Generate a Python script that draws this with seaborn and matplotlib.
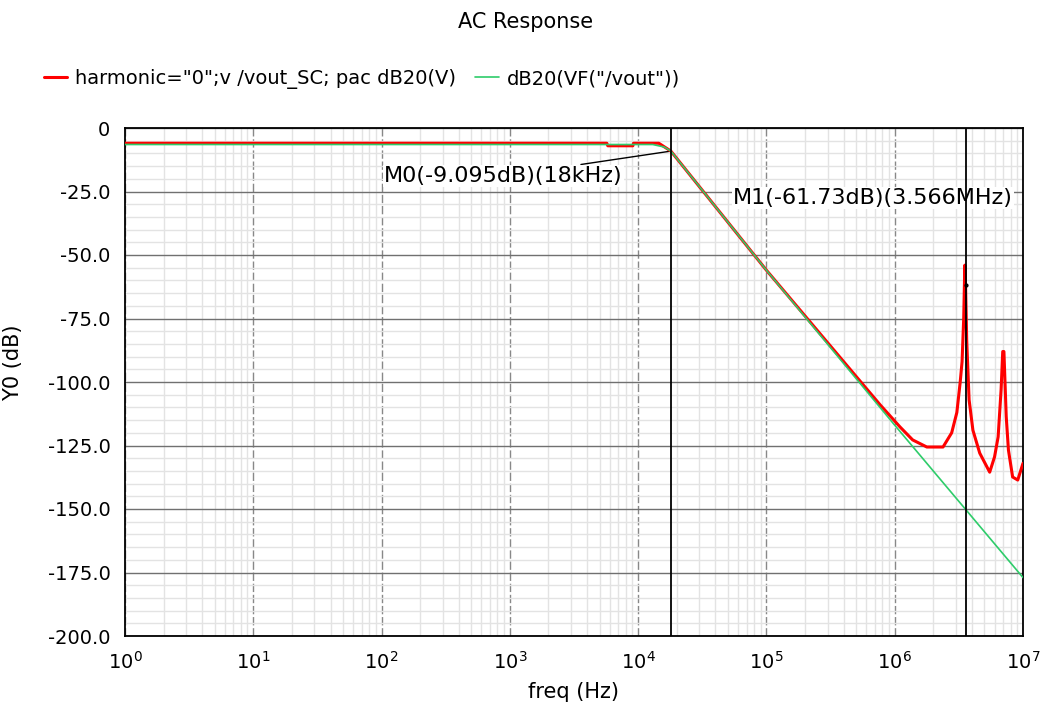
import numpy as np
import pandas as pd
import matplotlib
matplotlib.use("Agg")
import matplotlib.pyplot as plt
import matplotlib.ticker as mticker
import seaborn as sns

## Data
# red trace: harmonic="0" pac response (Hz, dB)
red_freq = [1, 5.7e3, 5.8e3, 9.1e3, 9.2e3, 1.45e4, 1.8e4, 1e5, 7.7e5,
            1.1e6, 1.38e6, 1.78e6, 2.38e6, 2.78e6, 3.05e6, 3.24e6, 3.35e6,
            3.45e6, 3.52e6, 3.566e6, 3.64e6, 3.8e6, 4.07e6, 4.6e6, 5.5e6,
            6.0e6, 6.4e6, 6.75e6, 6.95e6, 7.1e6, 7.4e6, 7.7e6, 8.3e6,
            9.1e6, 1e7]
red_db = [-6.0, -6.0, -7.0, -7.0, -6.0, -6.0, -9.1, -56.0, -109.0,
          -117.7, -122.8, -125.6, -125.6, -120.0, -112.0, -100.0, -92.0,
          -75.0, -54.0, -61.73, -83.5, -107.0, -119.0, -128.0, -135.5,
          -129.5, -121.6, -103.0, -88.0, -88.0, -113.6, -126.8, -137.4,
          -138.6, -132.0]

# green trace: dB20(VF("/vout"))
green_freq = [1, 1.3e4, 1.6e4, 1.8e4, 1e5, 1e6, 1e7]
green_db = [-6.5, -6.5, -7.5, -9.1, -56.0, -117.0, -177.0]

red_label = 'harmonic="0";v /vout_SC; pac dB20(V)'
green_label = 'dB20(VF("/vout"))'

# markers
m0_freq, m0_db = 1.8e4, -9.095
m1_freq, m1_db = 3.566e6, -61.73
m0_text = "M0(-9.095dB)(18kHz)"
m1_text = "M1(-61.73dB)(3.566MHz)"

x_ticks = [1, 1e1, 1e2, 1e3, 1e4, 1e5, 1e6, 1e7]
y_ticks = [0, -25, -50, -75, -100, -125, -150, -175, -200]

sns.set_style("white")
plt.rcParams['font.family'] = ['DejaVu Sans']
plt.rcParams['axes.unicode_minus'] = False
plt.rcParams['text.color'] = 'black'
plt.rcParams['axes.labelcolor'] = 'black'
plt.rcParams['xtick.color'] = 'black'
plt.rcParams['ytick.color'] = 'black'

fig = plt.figure(figsize=(10.51, 7.08), dpi=100)
ax = fig.add_axes([125 / 1051, 1 - 636 / 708, 898 / 1051, 508 / 708])

red_df = pd.DataFrame({"freq": red_freq, "dB": red_db})
green_df = pd.DataFrame({"freq": green_freq, "dB": green_db})

sns.lineplot(data=red_df, x="freq", y="dB", ax=ax, color="#ff0000", lw=2.2,
             estimator=None, sort=False, label=red_label, zorder=4)
sns.lineplot(data=green_df, x="freq", y="dB", ax=ax, color="#2ecc6a", lw=1.2,
             estimator=None, sort=False, label=green_label, zorder=5)

ax.set_xscale("log")
ax.set_xlim(1, 1e7)
ax.set_ylim(-200, 0)

# ticks
ax.xaxis.set_major_locator(mticker.FixedLocator(x_ticks))
ax.xaxis.set_major_formatter(mticker.LogFormatterSciNotation(base=10))
ax.xaxis.set_minor_locator(mticker.LogLocator(base=10, subs=np.arange(2, 10), numticks=100))
ax.xaxis.set_minor_formatter(mticker.NullFormatter())
ax.yaxis.set_major_locator(mticker.FixedLocator(y_ticks))
ax.yaxis.set_minor_locator(mticker.MultipleLocator(5))
ax.yaxis.set_major_formatter(mticker.FuncFormatter(lambda v, p: "0" if v == 0 else "%.1f" % v))
ax.tick_params(which="major", direction="out", length=7, width=1.2, colors="black", labelsize=14)
ax.tick_params(which="minor", direction="out", length=4, width=1.0, colors="black")
ax.tick_params(axis="x", pad=4)

# grid
ax.grid(which="minor", color="#e3e3e3", lw=1.0, ls="-", zorder=0)
ax.grid(which="major", axis="y", color="#707070", lw=1.0, ls="-", zorder=1)
ax.grid(which="major", axis="x", color="#888888", lw=1.0, ls=(0, (6, 2)), zorder=1)
ax.set_axisbelow(True)
for s in ax.spines.values():
    s.set_color("black")
    s.set_linewidth(1.3)

# marker lines
ax.axvline(m0_freq, color="black", lw=1.3, zorder=6)
ax.axvline(m1_freq, color="black", lw=1.3, zorder=6)
ax.plot([m1_freq], [m1_db], marker="o", ms=2, color="black", zorder=7)

ax.annotate(m0_text, xy=(m0_freq, m0_db), xytext=(7.6e3, -18.9),
            ha="right", va="center", fontsize=16, zorder=3,
            bbox=dict(boxstyle="square,pad=0.05", fc="white", ec="none"),
            arrowprops=dict(arrowstyle="-", color="black", lw=1.0, shrinkA=2, shrinkB=0))
ax.text(5.5e4, -27.6, m1_text, ha="left", va="center", fontsize=16, zorder=3,
        bbox=dict(boxstyle="square,pad=0.05", fc="white", ec="none"))

# labels
ax.set_xlabel("freq (Hz)", fontsize=15, labelpad=6)
ax.set_ylabel("Y0 (dB)", fontsize=15)
ax.yaxis.set_label_coords(-0.114, 0.537)
fig.suptitle("AC Response", fontsize=15, y=0.969, va="center")

handles, labels = ax.get_legend_handles_labels()
ax.get_legend().remove()
fig.legend(handles, labels, loc="center left", bbox_to_anchor=(0.025, 0.888),
           ncol=2, frameon=False, fontsize=14, handlelength=1.2,
           handletextpad=0.4, columnspacing=1.0)

fig.savefig("out.png", dpi=100)
